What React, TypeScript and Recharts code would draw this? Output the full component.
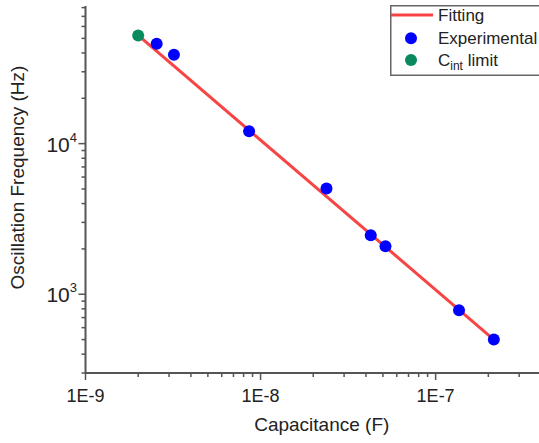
import React from "react";
import { ComposedChart, Line, Scatter, XAxis, YAxis, Legend, Label } from "recharts";

// values (log-log plot)
const expCapacitance = [2.55e-9, 3.2e-9, 8.6e-9, 2.38e-8, 4.26e-8, 5.17e-8, 1.36e-7, 2.15e-7];
const expFrequency = [46100, 38900, 12100, 5030, 2460, 2080, 783, 500];
const limitCapacitance = [2.0e-9];
const limitFrequency = [52300];
const fitCapacitance = [2.0e-9, 2.15e-7];
const fitFrequency = [52300, 500];

const xTicks = [
  1e-9, 2e-9, 3e-9, 4e-9, 5e-9, 6e-9, 7e-9, 8e-9, 9e-9,
  1e-8, 2e-8, 3e-8, 4e-8, 5e-8, 6e-8, 7e-8, 8e-8, 9e-8,
  1e-7, 2e-7, 3e-7, 4e-7, 5e-7,
];
const xMajor = [1e-9, 1e-8, 1e-7];
const xMajorLabels = ["1E-9", "1E-8", "1E-7"];

const yTicks = [
  300, 400, 500, 600, 700, 800, 900,
  1000, 2000, 3000, 4000, 5000, 6000, 7000, 8000, 9000,
  10000, 20000, 30000, 40000, 50000, 60000, 70000, 80000,
];
const yMajor = [1000, 10000];
const yMajorExp = ["3", "4"];

const xDomain = [1e-9, 5e-7];
const yDomain = [300, 82000];

const AXIS = "#555";
const TEXT = "#222";
const FONT = "'Liberation Sans', Arial, sans-serif";
const RED = "#f84444";
const BLUE = "#0000ff";
const GREEN = "#0a8a5f";

const toRows = (cs: number[], fs: number[]) => cs.map((c, i) => ({ c, f: fs[i] }));
const expData = toRows(expCapacitance, expFrequency);
const limitData = toRows(limitCapacitance, limitFrequency);
const fitData = toRows(fitCapacitance, fitFrequency);

const XTick = (props: any) => {
  const { x, y, payload } = props;
  const idx = xMajor.indexOf(payload.value);
  const major = idx >= 0;
  return (
    <g>
      <line x1={x} x2={x} y1={y} y2={y + (major ? 7 : 4)} stroke={AXIS} strokeWidth={1.5} />
      {major && (
        <text x={x} y={y + 28.5} textAnchor="middle" fontSize={18} fontFamily={FONT} fill={TEXT}>
          {xMajorLabels[idx]}
        </text>
      )}
    </g>
  );
};

const YTick = (props: any) => {
  const { x, y, payload } = props;
  const idx = yMajor.indexOf(payload.value);
  const major = idx >= 0;
  return (
    <g>
      <line x1={x} x2={x - (major ? 7 : 4)} y1={y} y2={y} stroke={AXIS} strokeWidth={1.5} />
      {major && (
        <text x={x - 8.5} y={y + 8} textAnchor="end" fontSize={21} fontFamily={FONT} fill={TEXT}>
          10
          <tspan fontSize={13} dy={-10}>
            {yMajorExp[idx]}
          </tspan>
        </text>
      )}
    </g>
  );
};

const dot = (color: string) => (p: any) => <circle cx={p.cx} cy={p.cy} r={6} fill={color} />;

const YTitle = () => (
  <text
    x={17}
    y={177.5}
    dy="0.35em"
    transform="rotate(-90 17 177.5)"
    textAnchor="middle"
    fontSize={19}
    fontFamily={FONT}
    fill={TEXT}
  >
    Oscillation Frequency (Hz)
  </text>
);

const LegendBox = () => (
  <svg width={170} height={71} style={{ display: "block" }}>
    <rect x={0.75} y={0.75} width={168} height={69.5} fill="#fff" stroke="#666" strokeWidth={1.5} />
    <line x1={1} x2={43} y1={10} y2={10} stroke={RED} strokeWidth={3} />
    <text x={48} y={16} fontSize={17} fontFamily={FONT} fill={TEXT}>Fitting</text>
    <circle cx={21} cy={33.3} r={6} fill={BLUE} />
    <text x={48} y={39.4} fontSize={17} fontFamily={FONT} fill={TEXT}>Experimental</text>
    <circle cx={21} cy={55} r={6} fill={GREEN} />
    <text x={48} y={61} fontSize={17} fontFamily={FONT} fill={TEXT}>
      C
      <tspan fontSize={12} dy={4}>int</tspan>
      <tspan dy={-4}> limit</tspan>
    </text>
  </svg>
);

export default function App() {
  return (
    <div
      style={{
        position: "absolute",
        left: 0,
        top: 0,
        width: 539,
        height: 443,
        overflow: "hidden",
        background: "#fff",
      }}
    >
      <ComposedChart width={562} height={443} margin={{ top: 6, right: 4, bottom: 0, left: 0 }}>
        <XAxis
          dataKey="c"
          type="number"
          scale="log"
          domain={xDomain}
          allowDataOverflow
          ticks={xTicks}
          interval={0}
          tick={XTick}
          tickLine={false}
          tickSize={0}
          tickMargin={0}
          height={70}
          axisLine={{ stroke: AXIS, strokeWidth: 2 }}
        >
          <Label
            value="Capacitance (F)"
            position="insideBottom"
            offset={12}
            style={{ fontSize: 19, fontFamily: FONT, fill: TEXT }}
          />
        </XAxis>
        <XAxis
          xAxisId="top"
          orientation="top"
          type="number"
          scale="log"
          domain={xDomain}
          allowDataOverflow
          tick={false}
          tickLine={false}
          height={0}
          axisLine={{ stroke: AXIS, strokeWidth: 2 }}
        />
        <YAxis
          dataKey="f"
          type="number"
          scale="log"
          domain={yDomain}
          allowDataOverflow
          ticks={yTicks}
          interval={0}
          tick={YTick}
          tickLine={false}
          tickSize={0}
          tickMargin={0}
          width={85.5}
          axisLine={{ stroke: AXIS, strokeWidth: 2 }}
        >
          <Label content={YTitle} />
        </YAxis>
        <Legend
          layout="horizontal"
          verticalAlign="middle"
          align="center"
          wrapperStyle={{ position: "absolute", left: 390, top: 5, width: 170, height: 71 }}
          content={() => <LegendBox />}
        />
        <Line
          data={fitData}
          dataKey="f"
          name="Fitting"
          type="linear"
          stroke={RED}
          strokeWidth={3}
          dot={false}
          activeDot={false}
          isAnimationActive={false}
        />
        <Scatter
          data={expData}
          name="Experimental"
          fill={BLUE}
          shape={dot(BLUE)}
          isAnimationActive={false}
        />
        <Scatter
          data={limitData}
          name="Cint limit"
          fill={GREEN}
          shape={dot(GREEN)}
          isAnimationActive={false}
        />
      </ComposedChart>
    </div>
  );
}
